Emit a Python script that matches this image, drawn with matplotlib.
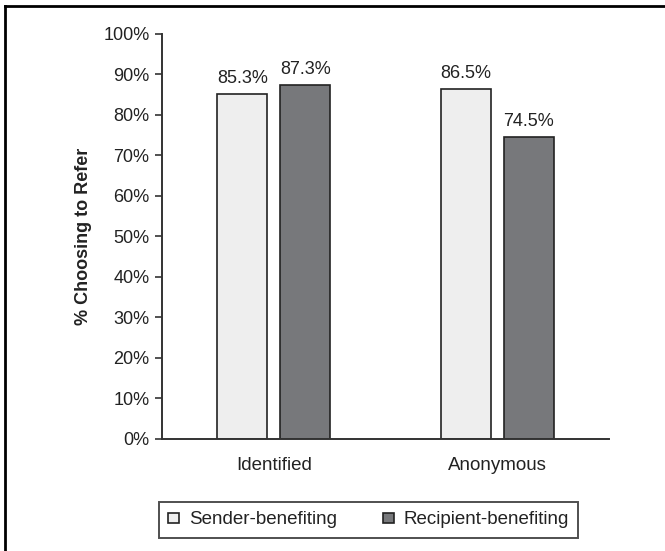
import matplotlib.pyplot as plt
from matplotlib.patches import Patch
from matplotlib.lines import Line2D
import numpy as np

plt.rcParams['font.family'] = ['Liberation Sans', 'DejaVu Sans']

# dados: % que escolheram indicar, por condição
condicoes = ['Identified', 'Anonymous']
series = ['Sender-benefiting', 'Recipient-benefiting']
sender = [85.3, 86.5]
recipient = [87.3, 74.5]
cores = ['#eeeeee', '#77787b']

fs = 13
fig = plt.figure(figsize=(6.65, 5.51), dpi=100)
ax = fig.add_axes([0.2436, 0.2033, 0.672, 0.735])

x = np.arange(len(condicoes))
largura = 0.223
desloc = 0.141
b1 = ax.bar(x - desloc, sender, largura, color=cores[0], edgecolor='#222222', linewidth=1.2)
b2 = ax.bar(x + desloc, recipient, largura, color=cores[1], edgecolor='#222222', linewidth=1.2)
for barras, vals in ((b1, sender), (b2, recipient)):
    ax.bar_label(barras, labels=['%.1f%%' % v for v in vals], padding=5, fontsize=fs, color='#222222')

ax.set_xlim(-0.5, 1.5)
ax.set_ylim(0, 100)
ax.set_yticks(np.arange(0, 101, 10))
ax.set_yticklabels(['%d%%' % v for v in range(0, 101, 10)], fontsize=fs, color='#222222')
ax.set_xticks(x)
ax.set_xticklabels(condicoes, fontsize=13.5, color='#222222')
ax.tick_params(axis='x', length=0, pad=13)
ax.tick_params(axis='y', length=5, width=1.2, color='#333333', pad=4)
ax.set_ylabel('% Choosing to Refer', fontsize=fs, fontweight='bold', color='#222222', labelpad=8)
for s in ('top', 'right'):
    ax.spines[s].set_visible(False)
for s in ('left', 'bottom'):
    ax.spines[s].set_color('#333333')
    ax.spines[s].set_linewidth(1.4)

# legenda com quadradinhos
handles = [Patch(facecolor=c, edgecolor='#222222', linewidth=1.2) for c in cores]
leg = fig.legend(handles, series, loc='center', bbox_to_anchor=(0.554, 0.0565), ncol=2,
                 frameon=True, fancybox=False, edgecolor='#222222', fontsize=13.5,
                 handlelength=0.6, handleheight=0.42, handletextpad=0.5, columnspacing=2.45,
                 borderpad=0.5, borderaxespad=0)
leg.get_frame().set_linewidth(1.4)
for t in leg.get_texts():
    t.set_color('#222222')

# moldura (só topo e esquerda)
fig.add_artist(Line2D([0.0075, 1.0], [0.989, 0.989], color='black', linewidth=2, transform=fig.transFigure))
fig.add_artist(Line2D([0.0075, 0.0075], [0.0, 0.989], color='black', linewidth=2, transform=fig.transFigure))

fig.savefig('out.png', dpi=100)
